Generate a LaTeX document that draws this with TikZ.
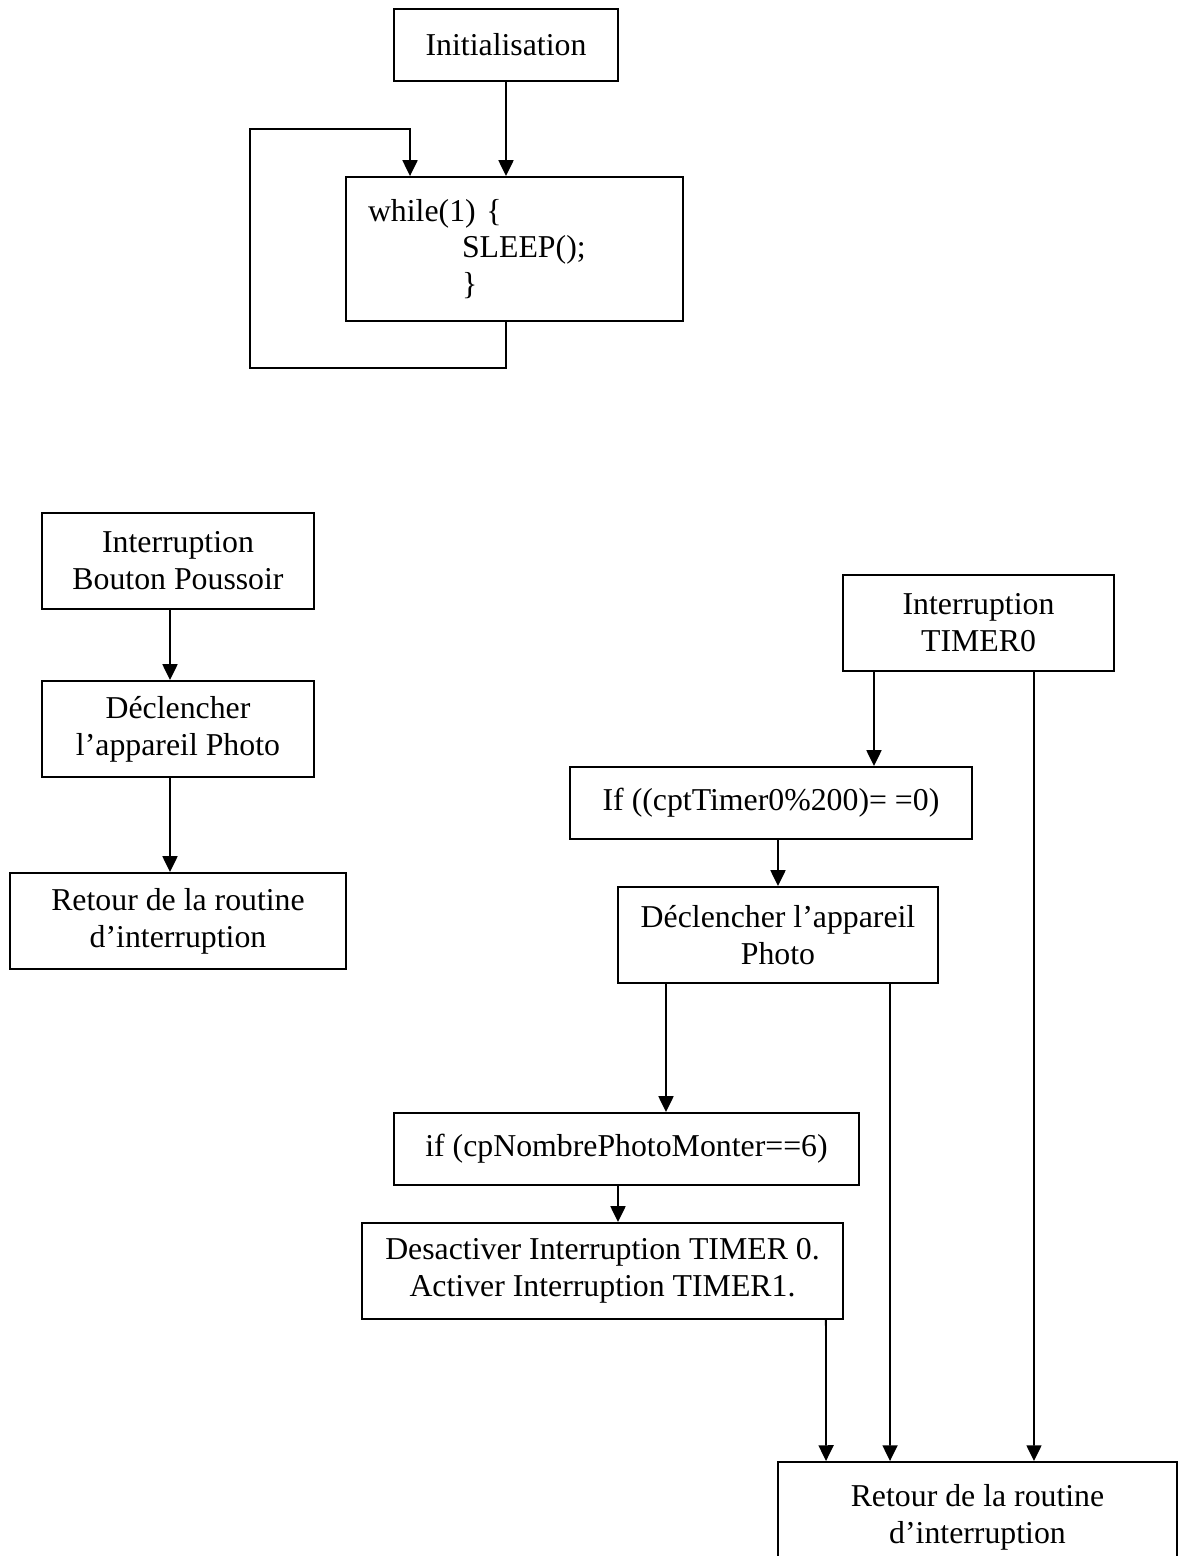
\documentclass[tikz,border=0pt]{standalone}
\usepackage{fontspec}
\setmainfont{Liberation Serif}
\usetikzlibrary{arrows.meta, positioning}
\tikzstyle{bloc}=[draw, line width=1.1pt, inner sep=0pt, align=center, font=\fontsize{18.1}{21}\selectfont]
\tikzstyle{fleche}=[line width=1.1pt, -{Triangle[length=9pt,width=8.5pt]}]
\tikzstyle{trait}=[line width=1.1pt]

\begin{document}
\begin{tikzpicture}[x=0.02cm, y=-0.02cm]
\useasboundingbox (0,0) rectangle (1178,1556);
% programme principal
\node [bloc, minimum width=4.48cm, minimum height=1.44cm] (init) at (506,45) {Initialisation};
\node [bloc, minimum width=6.74cm, minimum height=2.88cm, text width=5.86cm, align=left] (loop) at (514.5,249)
  {while(1) \{\\\hspace*{1.88cm}SLEEP();\\\hspace*{1.88cm}\}};
\coordinate (retourbas) at (250,368); \coordinate (retourhaut) at (410,129);
\draw [fleche] (init.south) -- ([xshift=-0.17cm]loop.north);
\draw [fleche] ([xshift=-0.17cm]loop.south) |- (retourbas) |- (retourhaut) -- ([xshift=-2.09cm]loop.north);

% interruption bouton poussoir
\node [bloc, minimum width=5.44cm, minimum height=1.92cm] (ibp) at (178,561) {Interruption\\Bouton Poussoir};
\node [bloc, minimum width=5.44cm, minimum height=1.92cm] (dec1) at (178,729) {Déclencher\\l’appareil Photo};
\node [bloc, minimum width=6.72cm, minimum height=1.92cm] (ret1) at (178,921) {Retour de la routine\\d’interruption};
\draw [fleche] ([xshift=-0.16cm]ibp.south) -- ([xshift=-0.16cm]dec1.north);
\draw [fleche] ([xshift=-0.16cm]dec1.south) -- ([xshift=-0.16cm]ret1.north);

% interruption timer0
\node [bloc, minimum width=5.42cm, minimum height=1.92cm] (t0) at (978.5,623) {Interruption\\TIMER0};
\node [bloc, minimum width=8.04cm, minimum height=1.44cm] (if0) at (771,803) {If ((cptTimer0\%200)= =0)};
\node [bloc, minimum width=6.4cm, minimum height=1.92cm] (dec2) at (778,935) {Déclencher l’appareil\\Photo};
\node [bloc, minimum width=9.3cm, minimum height=1.44cm] (ifn) at (626.5,1149) {if (cpNombrePhotoMonter==6)};
\node [bloc, minimum width=9.62cm, minimum height=1.92cm] (des) at (602.5,1271) {Desactiver Interruption TIMER 0.\\Activer Interruption TIMER1.};
\node [bloc, minimum width=7.98cm, minimum height=2.2cm] (ret2) at (977.5,1517) {Retour de la routine\\d’interruption};

\draw [fleche] ([xshift=-2.09cm]t0.south) -- ([xshift=2.06cm]if0.north);
\draw [fleche] ([xshift=0.14cm]if0.south) -- (dec2.north);
\draw [fleche] ([xshift=-2.24cm]dec2.south) -- ([xshift=0.79cm]ifn.north);
\draw [fleche] ([xshift=-0.17cm]ifn.south) -- ([xshift=0.31cm]des.north);
\draw [fleche] ([xshift=4.47cm]des.south) -- ([xshift=-3.03cm]ret2.north);
\draw [fleche] ([xshift=2.24cm]dec2.south) -- ([xshift=-1.75cm]ret2.north);
\draw [fleche] ([xshift=1.11cm]t0.south) -- ([xshift=1.13cm]ret2.north);
\end{tikzpicture}
\end{document}
